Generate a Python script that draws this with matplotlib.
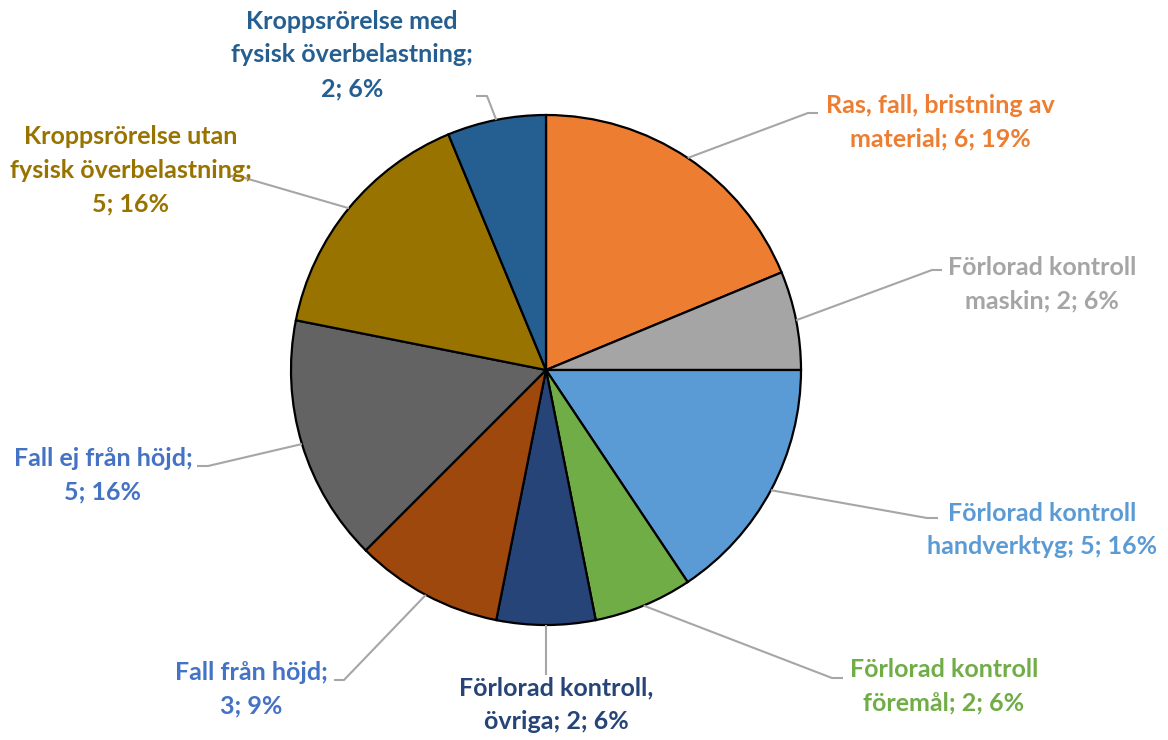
import numpy as np
import matplotlib
matplotlib.use("Agg")
import matplotlib.pyplot as plt

categories = [
    "Ras, fall, bristning av\nmaterial",
    "Förlorad kontroll\nmaskin",
    "Förlorad kontroll\nhandverktyg",
    "Förlorad kontroll\nföremål",
    "Förlorad kontroll,\növriga",
    "Fall från höjd;\n",
    "Fall ej från höjd;\n",
    "Kroppsrörelse utan\nfysisk överbelastning;\n",
    "Kroppsrörelse med\nfysisk överbelastning;\n",
]
values = [6, 2, 5, 2, 2, 3, 5, 5, 2]

slice_colors = ["#ED7D31", "#A5A5A5", "#5B9BD5", "#70AD47", "#264478",
                "#9E480E", "#636363", "#997300", "#255E91"]
label_colors = ["#ED7D31", "#A5A5A5", "#5B9BD5", "#70AD47", "#264478",
                "#4472C4", "#4472C4", "#997300", "#255E91"]

# layout (pixel coords, origin top-left)
W, H = 1168, 740
CX, CY, R = 546, 370, 255
label_pos = [(940, 122), (1042, 284), (1042, 530), (944, 686), (556, 705),
             (251, 689), (103, 475), (131, 170), (352, 55)]
elbow = [(808, 113), (932, 270), (927, 518), (832, 678), (546, 675),
         (344, 680), (208, 466), (238, 176), (487, 96)]
line_end = [(818, 113), (942, 270), (938, 518), (843, 678), (546, 675),
            (334, 680), (197, 466), (228, 176), (476, 96)]

fig = plt.figure(figsize=(W / 100, H / 100), dpi=100)
ax = fig.add_axes([0, 0, 1, 1])

wedges, _ = ax.pie(values, colors=slice_colors, startangle=90, counterclock=False,
                   center=(CX, H - CY), radius=R,
                   wedgeprops=dict(edgecolor="black", linewidth=1.6))
ax.set_xlim(0, W)
ax.set_ylim(0, H)
ax.set_aspect("equal")
ax.axis("off")

total = sum(values)
for i, w in enumerate(wedges):
    ang = np.deg2rad((w.theta1 + w.theta2) / 2)
    x0 = CX + R * np.cos(ang)
    y0 = (H - CY) + R * np.sin(ang)
    ex, ey = elbow[i]
    lx, ly = line_end[i]
    ax.plot([x0, ex, lx], [y0, H - ey, H - ly], color="#A6A6A6", lw=1.5,
            solid_capstyle="butt", zorder=1)
    pct = round(values[i] / total * 100)
    cat = categories[i]
    if cat.endswith("\n"):
        txt = f"{cat}{values[i]}; {pct}%"
    else:
        txt = f"{cat}; {values[i]}; {pct}%"
    tx, ty = label_pos[i]
    ax.text(tx, H - ty, txt, ha="center", va="center", multialignment="center",
            fontsize=18, fontweight="bold", family=["Lato", "DejaVu Sans"],
            color=label_colors[i], linespacing=1.55, zorder=3)

fig.savefig("out.png", dpi=100, facecolor="white")
